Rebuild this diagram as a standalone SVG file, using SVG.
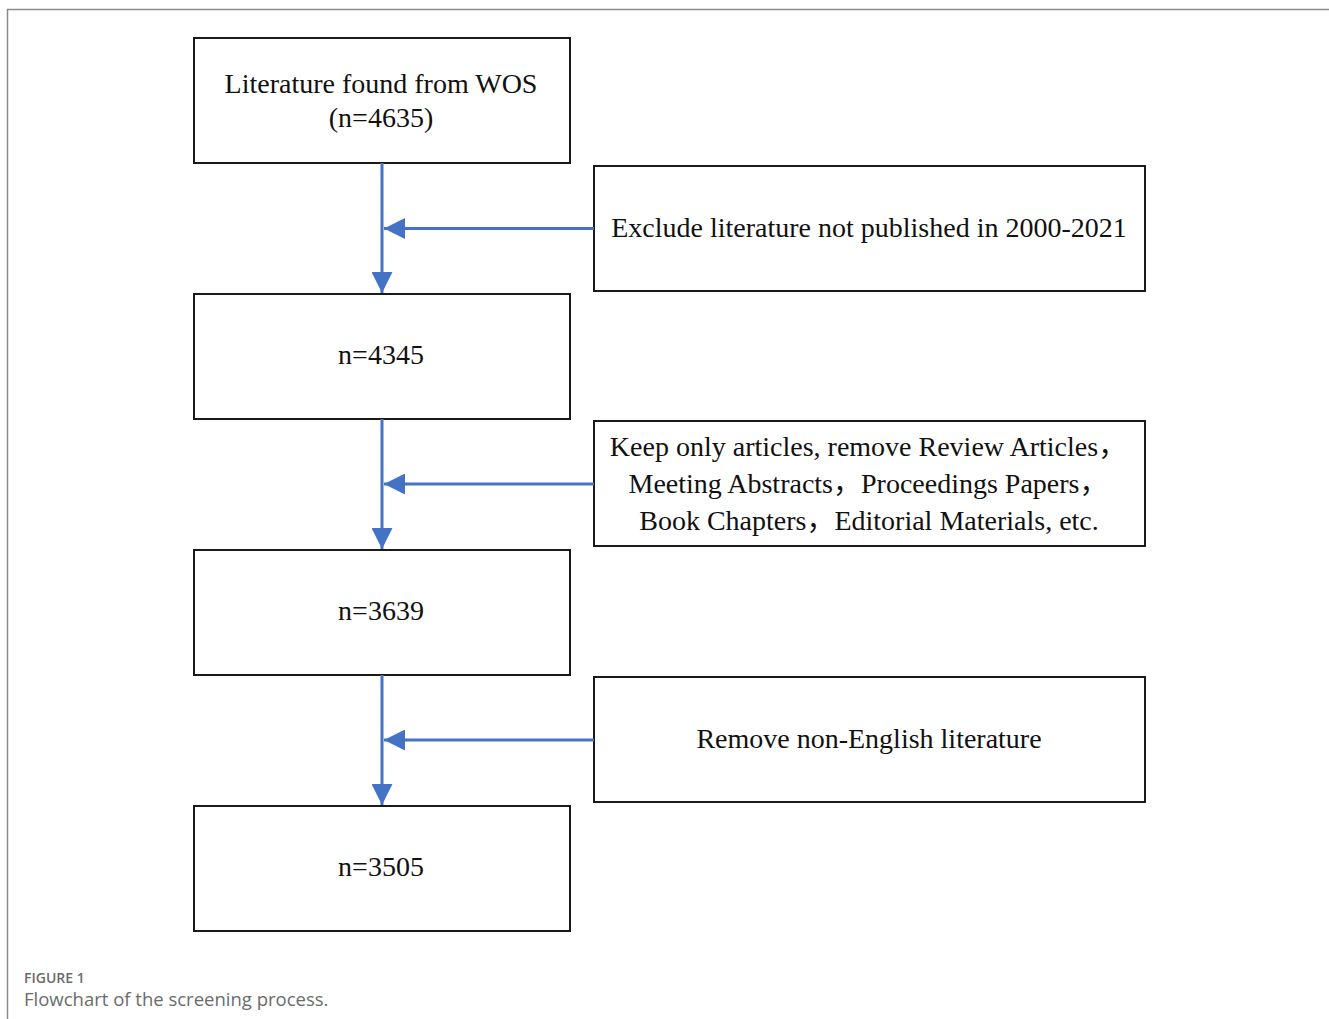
<svg xmlns="http://www.w3.org/2000/svg" width="1329" height="1019" viewBox="0 0 1329 1019">
<style>
.box{fill:#fff;stroke:#1a1a1a;stroke-width:2}
.t{font-family:"Liberation Serif","Times New Roman","Noto Sans CJK SC",serif;font-size:28px;fill:#111;text-anchor:middle}
.c{stroke:#4472c4;stroke-width:3;fill:none}
.cap1{font-family:"Open Sans","Noto Sans",sans-serif;font-size:14px;font-weight:600;fill:#6b6b6b}
.cap2{font-family:"Open Sans","Noto Sans",sans-serif;font-size:18.5px;fill:#6b6b6b}
</style>
<defs>
<marker id="ah" viewBox="0 0 10 10" refX="10" refY="5" markerWidth="8" markerHeight="7" markerUnits="strokeWidth" orient="auto">
<path d="M0,0 L10,5 L0,10 z" fill="#4472c4"/>
</marker>
</defs>
<rect width="1329" height="1019" fill="#fff"/>
<path d="M7.5,1019 V9.5 H1329" fill="none" stroke="#8a8a8a" stroke-width="1.5"/>
<g id="n1"><rect class="box" x="194" y="38" width="376" height="125"/><text class="t" x="381" y="93">Literature found from WOS</text><text class="t" x="381" y="127">(n=4635)</text></g>
<g id="n2"><rect class="box" x="194" y="294" width="376" height="125"/><text class="t" x="381" y="364">n=4345</text></g>
<g id="n3"><rect class="box" x="194" y="550" width="376" height="125"/><text class="t" x="381" y="620">n=3639</text></g>
<g id="n4"><rect class="box" x="194" y="806" width="376" height="125"/><text class="t" x="381" y="876">n=3505</text></g>
<g id="e1"><rect class="box" x="594" y="166" width="551" height="125"/><text class="t" x="869" y="237">Exclude literature not published in 2000-2021</text></g>
<g id="e2"><rect class="box" x="594" y="421" width="551" height="125"/><text class="t" x="868" y="456">Keep only articles, remove Review Articles，</text><text class="t" x="868" y="493">Meeting Abstracts，Proceedings Papers，</text><text class="t" x="869" y="530">Book Chapters，Editorial Materials, etc.</text></g>
<g id="e3"><rect class="box" x="594" y="677" width="551" height="125"/><text class="t" x="869" y="748">Remove non-English literature</text></g>
<g id="connectors">
<line class="c" x1="382" y1="163" x2="382" y2="293" marker-end="url(#ah)"/>
<line class="c" x1="382" y1="419" x2="382" y2="549" marker-end="url(#ah)"/>
<line class="c" x1="382" y1="675" x2="382" y2="805" marker-end="url(#ah)"/>
<line class="c" x1="594" y1="228.5" x2="384" y2="228.5" marker-end="url(#ah)"/>
<line class="c" x1="594" y1="484" x2="384" y2="484" marker-end="url(#ah)"/>
<line class="c" x1="594" y1="740" x2="384" y2="740" marker-end="url(#ah)"/>
</g>
<text class="cap1" x="24" y="983">FIGURE 1</text>
<text class="cap2" x="24" y="1006">Flowchart of the screening process.</text>
</svg>
